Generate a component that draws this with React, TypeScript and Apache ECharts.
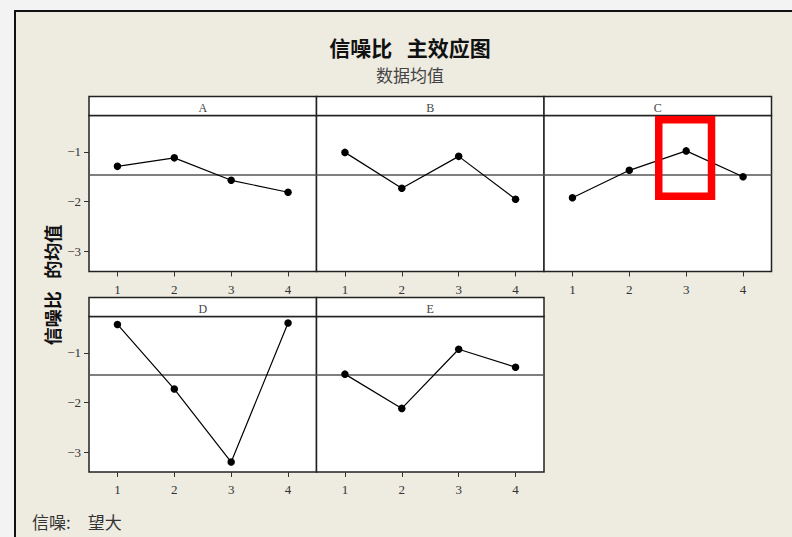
import { useEffect, useRef } from 'react';
import * as echarts from 'echarts';

// Factors and their levels
const factors = ['A', 'B', 'C', 'D', 'E'];
const levels = ['1', '2', '3', '4'];

// Mean S/N ratio per level for each factor
const snA = [-1.29, -1.12, -1.57, -1.81];
const snB = [-1.01, -1.73, -1.09, -1.95];
const snC = [-1.92, -1.37, -0.98, -1.5];
const snD = [-0.43, -1.73, -3.2, -0.4];
const snE = [-1.43, -2.12, -0.93, -1.29];
const seriesValues = [snA, snB, snC, snD, snE];

// Overall mean (reference line) and shared y scale
const grandMean = -1.45;
const yTicks = [-3, -2, -1];
const yMin = -3.4;
const yMax = -0.27;

const titleText = '信噪比\u2002\u2009主效应图';
const subtitleText = '数据均值';
const yTitle = '信噪比\u2002\u2009的均值';
const footnote = '信噪:\u3000望大';

// Panel layout (pixels)
const colX = [89, 316.5, 544];
const rowTop = [115.5, 316.5];
const panelW = 227.5;
const panelH = [156, 155.5];
const stripH = 19;
const panelCell = [
  [0, 0],
  [0, 1],
  [0, 2],
  [1, 0],
  [1, 1],
];

const CJK = '"Noto Sans CJK SC", "Noto Sans", sans-serif';
const SERIF = '"Liberation Serif", "DejaVu Serif", serif';

const minus = (v: number | string) => String(v).replace('-', '\u2212');

const centered = { textAlign: 'center', textVerticalAlign: 'middle', align: 'center', verticalAlign: 'middle' };

export default function App() {
  const ref = useRef<HTMLDivElement>(null);

  useEffect(() => {
    if (!ref.current) return;
    const chart = echarts.init(ref.current, undefined, { renderer: 'svg' });

    const grids = panelCell.map(([r, c]) => ({
      left: colX[c],
      top: rowTop[r],
      width: panelW,
      height: panelH[r],
      show: true,
      backgroundColor: '#ffffff',
      borderColor: '#222',
      borderWidth: 1.5,
      containLabel: false,
      outerBoundsMode: 'none',
    }));

    const xAxes = panelCell.map((_, i) => ({
      type: 'category',
      gridIndex: i,
      data: levels,
      boundaryGap: true,
      axisLine: { show: false },
      axisTick: { show: true, alignWithLabel: true, length: 5, lineStyle: { color: '#333', width: 1 } },
      axisLabel: { show: true, margin: 11, color: '#333', fontFamily: SERIF, fontSize: 13 },
      splitLine: { show: false },
    }));

    const yAxes = panelCell.map(([, c], i) => ({
      type: 'value',
      gridIndex: i,
      min: yMin,
      max: yMax,
      axisLine: { show: false },
      axisTick: {
        show: c === 0,
        length: 5,
        customValues: yTicks,
        lineStyle: { color: '#333', width: 1 },
      },
      axisLabel: {
        show: c === 0,
        customValues: yTicks,
        margin: 8,
        color: '#333',
        fontFamily: SERIF,
        fontSize: 13,
        formatter: (v: number) => minus(v),
      },
      splitLine: { show: false },
    }));

    const series = seriesValues.map((vals, i) => ({
      type: 'line',
      name: factors[i],
      xAxisIndex: i,
      yAxisIndex: i,
      data: vals,
      symbol: 'circle',
      symbolSize: 7.5,
      itemStyle: { color: '#000' },
      lineStyle: { color: '#000', width: 1.2 },
      z: 5,
      markLine: {
        silent: true,
        symbol: 'none',
        animation: false,
        label: { show: false },
        lineStyle: { color: '#555', width: 1.5, type: 'solid' },
        data: [{ yAxis: grandMean }],
        z: 3,
      },
    }));

    const strips = panelCell.flatMap(([r, c], i) => [
      {
        type: 'rect',
        z: 10,
        shape: { x: colX[c], y: rowTop[r] - stripH, width: panelW, height: stripH },
        style: { fill: '#ffffff', stroke: '#222', lineWidth: 1.5 },
      },
      {
        type: 'text',
        z: 11,
        x: colX[c] + panelW / 2,
        y: rowTop[r] - stripH / 2 + 1.5,
        style: { text: factors[i], font: `12px ${SERIF}`, fill: '#444', ...centered },
      },
    ]);

    chart.setOption({
      animation: false,
      backgroundColor: '#eeebe1',
      grid: grids,
      xAxis: xAxes,
      yAxis: yAxes,
      series,
      graphic: [
        // page margin and frame edges
        { type: 'rect', z: 1, shape: { x: 0, y: 0, width: 792, height: 10 }, style: { fill: '#f3f3f3' } },
        { type: 'rect', z: 1, shape: { x: 0, y: 0, width: 14, height: 537 }, style: { fill: '#f3f3f3' } },
        { type: 'line', z: 2, shape: { x1: 15, y1: 10, x2: 15, y2: 537 }, style: { stroke: '#111', lineWidth: 2 } },
        { type: 'line', z: 2, shape: { x1: 14, y1: 11, x2: 792, y2: 11 }, style: { stroke: '#111', lineWidth: 2 } },
        ...strips,
        {
          type: 'text',
          x: 410,
          y: 47,
          style: { text: titleText, font: `bold 21px ${CJK}`, lineHeight: 21, fill: '#111', ...centered },
        },
        {
          type: 'text',
          x: 410,
          y: 74.5,
          style: { text: subtitleText, font: `17px ${CJK}`, lineHeight: 17, fill: '#444', ...centered },
        },
        {
          type: 'text',
          x: 52,
          y: 285,
          rotation: Math.PI / 2,
          style: { text: yTitle, font: `bold 18px ${CJK}`, fill: '#111', ...centered },
        },
        {
          type: 'text',
          x: 32,
          y: 521,
          style: {
            text: footnote,
            font: `17px ${CJK}`,
            fill: '#333',
            textAlign: 'left',
            textVerticalAlign: 'middle',
            align: 'left',
            verticalAlign: 'middle',
          },
        },
        // highlight box around factor C, level 3
        {
          type: 'rect',
          z: 100,
          shape: { x: 658.75, y: 119.75, width: 52.75, height: 76.5 },
          style: { fill: 'none', stroke: '#ff0000', lineWidth: 7.5 },
        },
      ],
    });

    return () => chart.dispose();
  }, []);

  return (
    <div
      ref={ref}
      style={{ position: 'fixed', left: 0, top: 0, width: 792, height: 537 }}
    />
  );
}
